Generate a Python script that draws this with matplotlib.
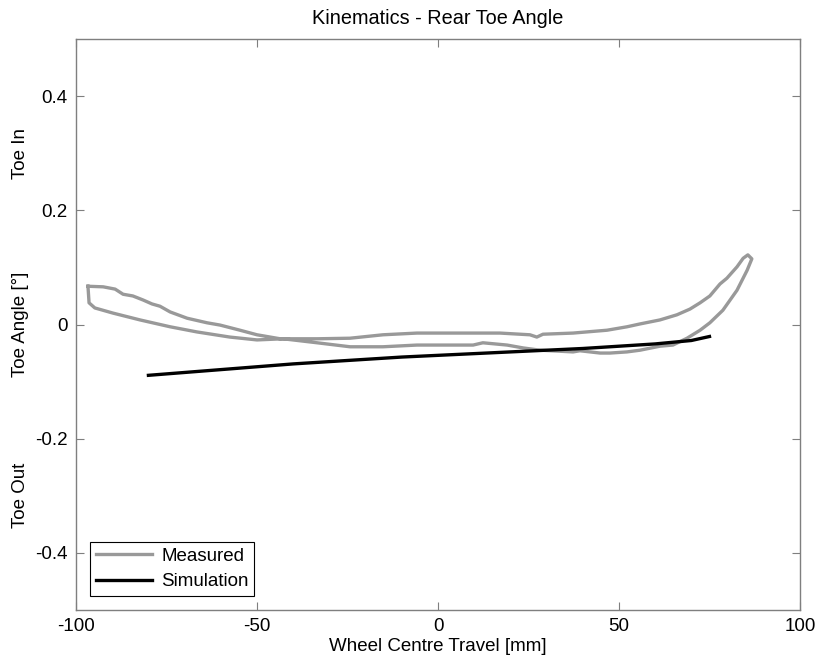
import numpy as np
import matplotlib
matplotlib.use("Agg")
import matplotlib.pyplot as plt
import matplotlib.transforms as mtransforms

plt.rcParams['font.family'] = ['Liberation Sans', 'DejaVu Sans']
plt.rcParams['axes.unicode_minus'] = False

# measured loop: upper branch left->right, then lower branch back to the left
meas_x = [-96.7, -92.5, -89.2, -87.0, -84.3, -81.5, -79.0, -76.8, -74.0, -69.3,
          -63.8, -60.2, -54.7, -50.0, -43.6, -38.1, -33.4, -24.3, -15.2, -5.8,
          0.6, 9.7, 17.1, 25.4, 27.3, 29.0, 37.3, 46.7, 52.2, 55.8,
          61.3, 66.0, 69.6, 72.4, 75.1, 77.9, 79.8, 82.6, 84.3, 85.6, 86.7,
          85.4, 82.6, 78.7, 75.1, 72.4, 68.8, 64.9, 61.3, 55.8, 52.2,
          47.5, 44.8, 39.2, 37.3, 28.2, 23.5, 19.1, 12.4, 9.7, 0.6,
          -5.8, -15.2, -24.3, -33.4, -42.8, -50.0, -57.5, -66.6, -74.0, -82.3,
          -89.8, -94.8, -96.4, -96.7]
meas_y = [0.067, 0.066, 0.062, 0.053, 0.050, 0.043, 0.036, 0.032, 0.022, 0.011,
          0.003, -0.001, -0.010, -0.018, -0.025, -0.025, -0.025, -0.024, -0.018, -0.015,
          -0.015, -0.015, -0.015, -0.018, -0.022, -0.017, -0.015, -0.010, -0.004, 0.001,
          0.008, 0.017, 0.027, 0.038, 0.050, 0.071, 0.081, 0.101, 0.116, 0.122, 0.115,
          0.095, 0.060, 0.025, 0.003, -0.010, -0.024, -0.036, -0.038, -0.045, -0.048,
          -0.050, -0.050, -0.046, -0.048, -0.045, -0.041, -0.036, -0.032, -0.036, -0.036,
          -0.036, -0.039, -0.039, -0.032, -0.025, -0.027, -0.022, -0.013, -0.004, 0.008,
          0.020, 0.029, 0.038, 0.067]

sim_x = [-80, -70, -60, -50, -40, -30, -20, -10, 0, 10, 20, 30, 40, 50, 60, 70, 75]
sim_y = [-0.089, -0.084, -0.079, -0.074, -0.069, -0.065, -0.061, -0.057, -0.054,
         -0.051, -0.048, -0.045, -0.042, -0.038, -0.034, -0.028, -0.021]

xticks = [-100, -50, 0, 50, 100]
yticks = [-0.4, -0.2, 0, 0.2, 0.4]
ytick_labels = ['-0.4', '-0.2', '0', '0.2', '0.4']

fs = 13.5

fig = plt.figure(figsize=(8.21, 6.66), dpi=100)
ax = fig.add_axes([0.0926, 0.0841, 0.8818, 0.8573])

ax.plot(meas_x, meas_y, color='#999999', lw=2.4, label='Measured')
ax.plot(sim_x, sim_y, color='black', lw=2.4, label='Simulation')

ax.set_xlim(-100, 100)
ax.set_ylim(-0.5, 0.5)
ax.set_xticks(xticks)
ax.set_yticks(yticks)
ax.set_yticklabels(ytick_labels)
ax.tick_params(direction='in', length=6, width=0.8, color='#7f7f7f',
               top=True, right=True, labelsize=fs, pad=6)
for s in ax.spines.values():
    s.set_color('#7f7f7f')
    s.set_linewidth(1.0)

ax.set_title('Kinematics - Rear Toe Angle', fontsize=14.3, pad=11)
ax.set_xlabel('Wheel Centre Travel [mm]', fontsize=fs, labelpad=2)

# y labels placed manually like the original
trans = mtransforms.blended_transform_factory(fig.transFigure, ax.transData)
ax.text(0.025, 0.0, 'Toe Angle [°]', rotation=90, ha='center', va='center',
        fontsize=fs, transform=trans)
ax.text(0.025, 0.3, 'Toe In', rotation=90, ha='center', va='center',
        fontsize=fs, transform=trans)
ax.text(0.025, -0.3, 'Toe Out', rotation=90, ha='center', va='center',
        fontsize=fs, transform=trans)

leg = ax.legend(loc='lower left', fontsize=fs, handlelength=3.0, fancybox=False,
                edgecolor='black', framealpha=1, borderaxespad=0.75,
                borderpad=0.3, labelspacing=0.45, handletextpad=0.5)
leg.get_frame().set_linewidth(0.8)

fig.savefig('out.png', dpi=100)
